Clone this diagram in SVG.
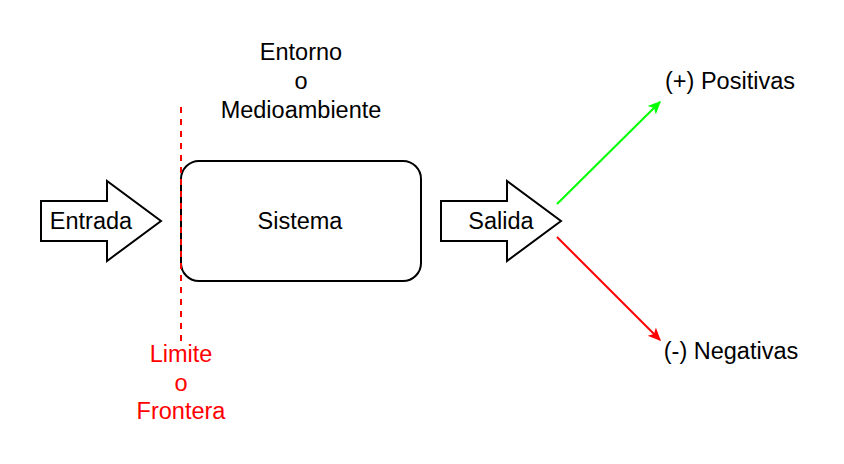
<svg xmlns="http://www.w3.org/2000/svg" width="844" height="464" viewBox="0 0 844 464">
<style>
text{font-family:"Liberation Sans",Arial,sans-serif;font-size:23.5px;fill:#000;text-anchor:middle}
.red{fill:#FF0000}
.shape{fill:#fff;stroke:#000;stroke-width:2}
</style>
<defs>
<marker id="ag" viewBox="0 0 10 10" refX="9" refY="5" markerWidth="13" markerHeight="13" markerUnits="userSpaceOnUse" orient="auto"><path d="M0,0.5 L10,5 L0,9.5 L2.5,5 Z" fill="#00FF00"/></marker>
<marker id="ar" viewBox="0 0 10 10" refX="9" refY="5" markerWidth="13" markerHeight="13" markerUnits="userSpaceOnUse" orient="auto"><path d="M0,0.5 L10,5 L0,9.5 L2.5,5 Z" fill="#FF0000"/></marker>
</defs>
<rect width="844" height="464" fill="#fff"/>
<g id="entorno"><text x="301" y="60">Entorno</text><text x="301" y="89">o</text><text x="301" y="118">Medioambiente</text></g>
<g id="sistema"><rect class="shape" x="181" y="161" width="240" height="120" rx="18"/><text x="300" y="229">Sistema</text></g>
<g id="entrada"><path class="shape" d="M41,201 H107 V181 L161,221 L107,261 V241 H41 Z"/><text x="91" y="229">Entrada</text></g>
<g id="salida"><path class="shape" d="M441,201 H507 V181 L561,221 L507,261 V241 H441 Z"/><text x="501" y="229">Salida</text></g>
<g id="positivas"><text x="730" y="89">(+) Positivas</text></g>
<g id="negativas"><text x="731" y="359">(-) Negativas</text></g>
<g id="limite"><text class="red" x="181" y="362">Limite</text><text class="red" x="181" y="391">o</text><text class="red" x="181" y="419">Frontera</text></g>
<g id="connectors">
<line x1="181" y1="107" x2="181" y2="341" stroke="#FF0000" stroke-width="2" stroke-dasharray="6 6"/>
<line x1="557" y1="204" x2="660" y2="102" stroke="#00FF00" stroke-width="2" marker-end="url(#ag)"/>
<line x1="557" y1="237" x2="660" y2="340" stroke="#FF0000" stroke-width="2" marker-end="url(#ar)"/>
</g>
</svg>
